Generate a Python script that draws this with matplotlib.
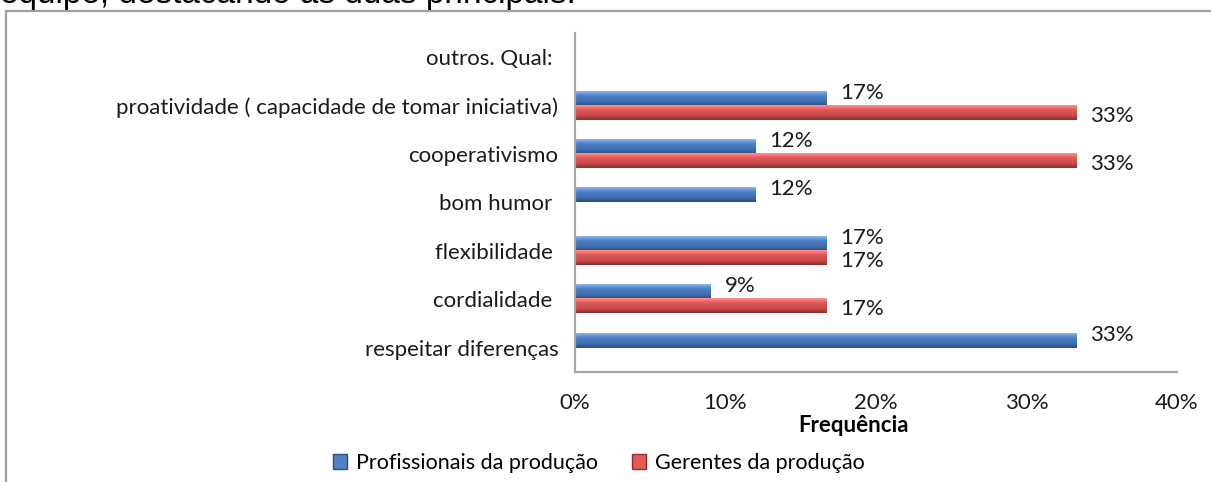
import numpy as np
import matplotlib
matplotlib.use("Agg")
import matplotlib.pyplot as plt
from matplotlib.colors import LinearSegmentedColormap
from matplotlib.patches import Rectangle, Patch

categories = ["respeitar diferenças", "cordialidade ", "flexibilidade ", "bom humor ",
              "cooperativismo", "proatividade ( capacidade de tomar iniciativa)", "outros. Qual: "]
profissionais = [33.3, 9.0, 16.7, 12.0, 12.0, 16.7, 0.0]
gerentes = [0.0, 16.7, 16.7, 0.0, 33.3, 33.3, 0.0]
xticks = [0, 10, 20, 30, 40]
series_names = ["Profissionais da produção", "Gerentes da produção"]

plt.rcParams["font.family"] = ["Lato", "DejaVu Sans"]
FS = 16

fig = plt.figure(figsize=(12.11, 4.82), dpi=100)
ax = fig.add_axes([575 / 1211, 110 / 482, 602 / 1211, 339 / 482])

# caption above the chart box, cut off by the top edge like in the source
fig.text(0.0, 1 - 3 / 482, "equipe, destacando as duas principais.", fontsize=24,
         family="Liberation Sans", va="baseline", ha="left", color="black")
fig.patches.append(Rectangle((6 / 1211, -0.1), 1.2, (482 - 11) / 482 + 0.1,
                             transform=fig.transFigure, fill=False,
                             edgecolor="#a0a0a0", linewidth=1.6))

blue_cmap = LinearSegmentedColormap.from_list(
    "b", [(0, "#8cb6ec"), (0.3, "#4f81c7"), (0.7, "#3f6eaf"), (1, "#2a4e82")])
red_cmap = LinearSegmentedColormap.from_list(
    "r", [(0, "#ff9090"), (0.3, "#e35a58"), (0.7, "#c94a48"), (1, "#8e2f2e")])

y = np.arange(len(categories))
h = 0.29
grad = np.linspace(0, 1, 64).reshape(-1, 1)


def shaded_bars(vals, offset, cmap, label_off):
    bars = ax.barh(y + offset, vals, height=h, color="none", edgecolor="none")
    for b, v in zip(bars, vals):
        if v <= 0:
            continue
        x0, y0, w, hh = b.get_x(), b.get_y(), b.get_width(), b.get_height()
        ax.imshow(grad, cmap=cmap, aspect="auto", extent=(x0, x0 + w, y0, y0 + hh),
                  origin="upper", zorder=2)
        ax.annotate(f"{v:.0f}%", (x0 + w, y0 + hh / 2), xytext=label_off,
                    textcoords="offset pixels", ha="left", va="center",
                    fontsize=FS, color="#1a1a1a")


shaded_bars(profissionais, h / 2, blue_cmap, (14, 6))
shaded_bars(gerentes, -h / 2, red_cmap, (14, -3))

ax.set_xlim(0, 40)
ax.set_ylim(-0.5, len(categories) - 0.5)
ax.set_xticks(xticks)
ax.set_xticklabels([f"{t}%" for t in xticks])
ax.set_yticks(y)
ax.set_yticklabels(categories)
ax.tick_params(axis="both", length=0, labelsize=FS, colors="#1a1a1a")
ax.tick_params(axis="x", pad=15)
ax.tick_params(axis="y", pad=12)
ax.set_xlabel("Frequência", fontsize=FS, fontweight="bold")
ax.xaxis.set_label_coords((854 - 575) / 602, -0.128)

for s in ["top", "right"]:
    ax.spines[s].set_visible(False)
for s in ["left", "bottom"]:
    ax.spines[s].set_color("#a6a6a6")
    ax.spines[s].set_linewidth(1.6)

handles = [Patch(facecolor="#4f81c7", edgecolor="#2a4e82"),
           Patch(facecolor="#e35a58", edgecolor="#8e2f2e")]
fig.legend(handles, series_names, loc="center", bbox_to_anchor=(599 / 1211, 1 - 463 / 482),
           ncol=2, frameon=False, fontsize=15.5, handlelength=0.65, handleheight=0.65,
           handletextpad=0.4, columnspacing=1.6)

fig.savefig("out.png", dpi=100)
